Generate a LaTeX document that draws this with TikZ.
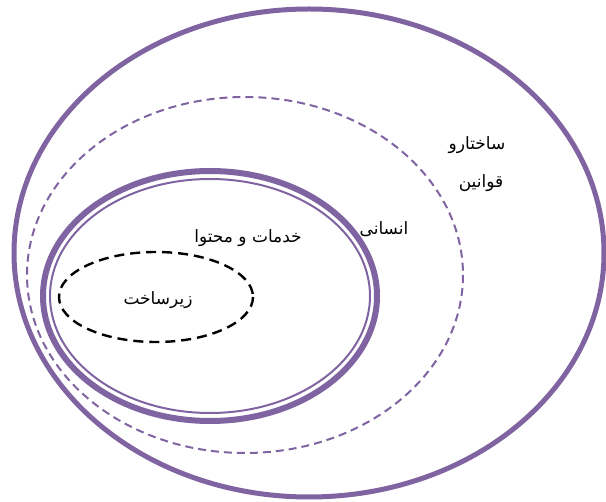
\documentclass[tikz,border=0pt]{standalone}
\usepackage{fontspec}
\newfontfamily\arabicfont[Script=Arabic]{DejaVu Sans}
\TeXXeTstate=1
\definecolor{ringpurple}{HTML}{8064A2}
\definecolor{ringink}{HTML}{000000}
\tikzset{
  ringlabel/.style={font=\arabicfont\fontsize{17}{20}\selectfont, text=ringink, inner sep=1pt},
  solidring/.style={draw=ringpurple, line width=5pt},
  dashring/.style={draw=ringpurple, line width=2pt, dash pattern=on 8pt off 5pt},
  thickring/.style={draw=ringpurple, line width=6pt},
  thinring/.style={draw=ringpurple, line width=2pt},
  coredash/.style={draw=ringink, line width=2.4pt, dash pattern=on 10pt off 6pt}
}
\begin{document}
\begin{tikzpicture}[x=1pt,y=-1pt]
  \useasboundingbox (0,0) rectangle (606,502);
  \fill[white] (0,0) rectangle (606,502);

  % rings
  \draw[solidring] (309,253) ellipse [x radius=295, y radius=244];
  \draw[dashring] (245,275) ellipse [x radius=218, y radius=178];
  \draw[thickring] (210,296) ellipse [x radius=167, y radius=125];
  \draw[thinring] (210,296) ellipse [x radius=160, y radius=117];
  \draw[coredash] (156,297) ellipse [x radius=97, y radius=45];

  % labels
  \node[ringlabel] (rules1) at (477,145) {\beginR ساختارو\endR};
  \node[ringlabel] (rules2) at (481,183) {\beginR قوانین\endR};
  \node[ringlabel] (human) at (384,229) {\beginR انسانی\endR};
  \node[ringlabel] (content) at (248,238) {\beginR خدمات و محتوا\endR};
  \node[ringlabel] (infra) at (158,300) {\beginR زیرساخت\endR};
\end{tikzpicture}
\end{document}
